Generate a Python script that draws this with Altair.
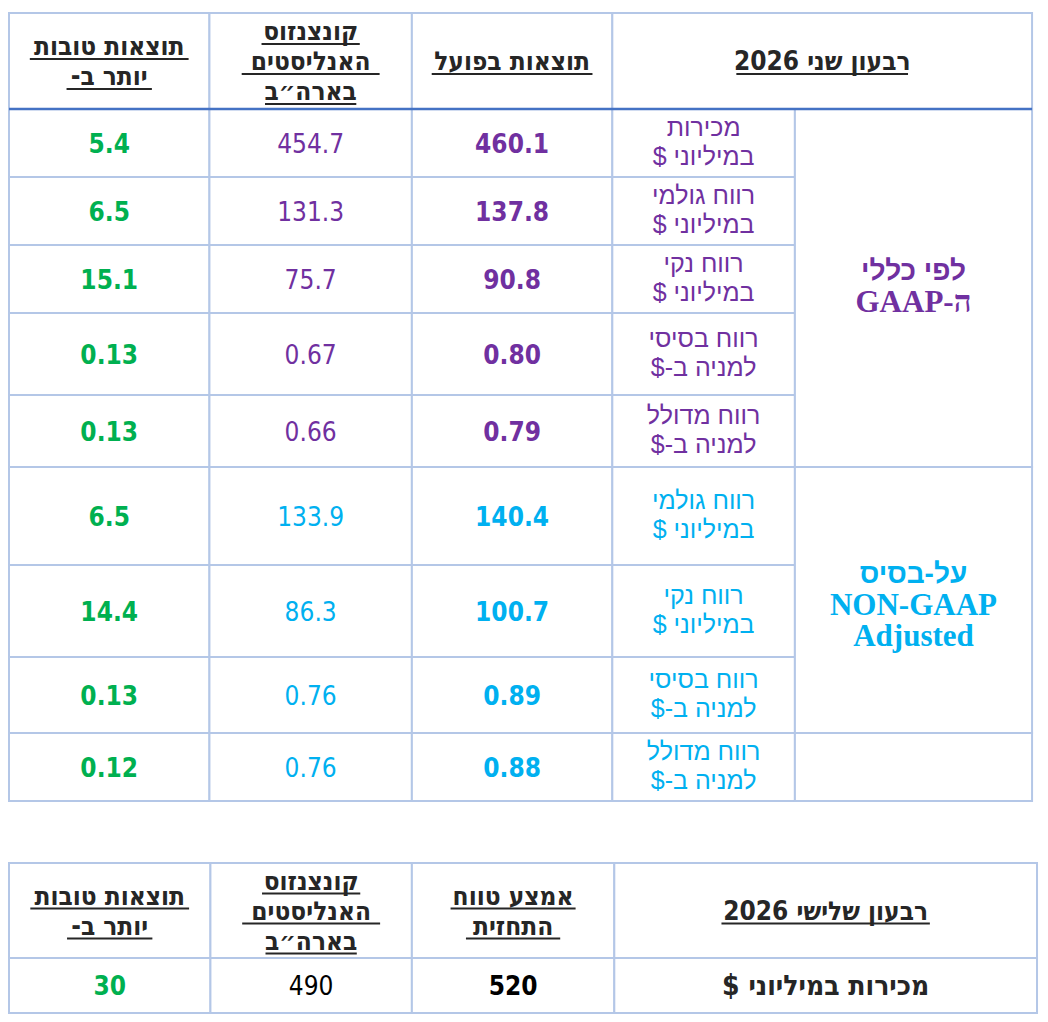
import altair as alt
import pandas as pd

# ---------------- data ----------------
q2_title = ["רבעון שני 2026"]
q3_title = ["רבעון שלישי 2026"]
col_beat = ["תוצאות טובות", "יותר ב-"]
col_consensus = ["קונצנזוס", "האנליסטים", "בארה״ב"]
col_actual = ["תוצאות בפועל"]
col_guidance = ["אמצע טווח", "התחזית"]

metrics = [
    ["מכירות", "במיליוני $"],
    ["רווח גולמי", "במיליוני $"],
    ["רווח נקי", "במיליוני $"],
    ["רווח בסיסי", "למניה ב-$"],
    ["רווח מדולל", "למניה ב-$"],
    ["רווח גולמי", "במיליוני $"],
    ["רווח נקי", "במיליוני $"],
    ["רווח בסיסי", "למניה ב-$"],
    ["רווח מדולל", "למניה ב-$"],
]
basis = ["GAAP"] * 5 + ["NONGAAP"] * 4
actual = [460.1, 137.8, 90.8, 0.80, 0.79, 140.4, 100.7, 0.89, 0.88]
consensus = [454.7, 131.3, 75.7, 0.67, 0.66, 133.9, 86.3, 0.76, 0.76]
beat = [5.4, 6.5, 15.1, 0.13, 0.13, 6.5, 14.4, 0.13, 0.12]
decimals = [1, 1, 1, 2, 2, 1, 1, 2, 2]
group_gaap = ["לפי כללי", "ה-GAAP"]
group_nongaap = ["על-בסיס", "NON-GAAP", "Adjusted"]

q3_metric = ["מכירות במיליוני $"]
q3_guidance = [520]
q3_consensus = [490]
q3_beat = [30]

# ---------------- layout / style ----------------
PURPLE = "#7030A0"
CYAN = "#00B0F0"
GREEN = "#00B050"
DARK = "#262626"
BORDER = "#B4C7E7"
HEADLINE = "#4472C4"
basis_color = {"GAAP": PURPLE, "NONGAAP": CYAN}

MX = [5, 207, 411, 613, 797, 1036]          # main table column edges
MH = [13, 109]                                # main header top/bottom
MY = [109, 177, 245, 313, 395, 467, 565, 657, 733, 801]  # main row edges
SX = [5, 208, 411, 615, 1041]                 # second table column edges
SY = [863, 958, 1013]                         # second table row edges

RLE, PDF = "\u202B", "\u202C"

# style: (line height, baseline shift from line centre)
LINE = {"head": (30, 9), "label": (29, 7.5), "group_he": (31, 9), "group_en": (31, 10),
        "numbold": (30, 9.5), "num": (30, 9.5), "q3label": (30, 9)}
UL_GAP = 4
UL_W = {
    "תוצאות טובות": 160, "יותר ב-": 86,
    "קונצנזוס": 99, "האנליסטים": 139, "בארה״ב": 92,
    "תוצאות בפועל": 162, "אמצע טווח": 126, "התחזית": 95,
    "רבעון שני 2026": 173, "רבעון שלישי 2026": 210,
}

def mid(a, b):
    return (a + b) / 2

def is_hebrew(s):
    return any("\u0590" <= ch <= "\u05FF" for ch in s)

rects, texts, rules = [], [], []

def cell(x0, x1, y0, y1):
    rects.append(dict(x=x0, x2=x1, y=y0, y2=y1))

def put(lines, cx, cy, color, styles, underline=False):
    n = len(lines)
    if isinstance(styles, str):
        styles = [styles] * n
    lh = LINE[styles[0]][0]
    for i, ln in enumerate(lines):
        st = styles[i]
        base = cy + (i - (n - 1) / 2) * lh + LINE[st][1]
        txt = RLE + ln + PDF if is_hebrew(ln) else ln
        texts.append(dict(x=cx, y=base, text=txt, color=color, style=st))
        if underline:
            w = UL_W[ln]
            rules.append(dict(x=cx - w / 2, x2=cx + w / 2, y=base + UL_GAP, color=DARK, kind="ul"))

def header(lines, x0, x1, y0, y1):
    cell(x0, x1, y0, y1)
    put(lines, mid(x0, x1), mid(y0, y1), DARK, "head", underline=True)

# main header
header(col_beat, MX[0], MX[1], MH[0], MH[1])
header(col_consensus, MX[1], MX[2], MH[0], MH[1])
header(col_actual, MX[2], MX[3], MH[0], MH[1])
header(q2_title, MX[3], MX[5], MH[0], MH[1])

# main rows
for i in range(len(metrics)):
    y0, y1 = MY[i], MY[i + 1]
    cy = mid(y0, y1)
    col = basis_color[basis[i]]
    fmt = "{:.%df}" % decimals[i]
    for c in range(4):
        cell(MX[c], MX[c + 1], y0, y1)
    put([fmt.format(beat[i])], mid(MX[0], MX[1]), cy, GREEN, "numbold")
    put([fmt.format(consensus[i])], mid(MX[1], MX[2]), cy, col, "num")
    put([fmt.format(actual[i])], mid(MX[2], MX[3]), cy, col, "numbold")
    put(metrics[i], mid(MX[3], MX[4]), cy, col, "label")

# group cells
gx = mid(MX[4], MX[5])
cell(MX[4], MX[5], MY[0], MY[5])
put(group_gaap, gx, mid(MY[0], MY[5]) - 2, PURPLE, ["group_he", "group_en"])
cell(MX[4], MX[5], MY[5], MY[8])
put(group_nongaap, gx, mid(MY[5], MY[8]) + 5, CYAN, ["group_he", "group_en", "group_en"])
cell(MX[4], MX[5], MY[8], MY[9])

# dark line under main header
rules.append(dict(x=MX[0], x2=MX[5], y=MH[1], color=HEADLINE, kind="line"))

# second table
header(col_beat, SX[0], SX[1], SY[0], SY[1])
header(col_consensus, SX[1], SX[2], SY[0], SY[1])
header(col_guidance, SX[2], SX[3], SY[0], SY[1])
header(q3_title, SX[3], SX[4], SY[0], SY[1])
for c in range(4):
    cell(SX[c], SX[c + 1], SY[1], SY[2])
cy2 = mid(SY[1], SY[2])
put([str(q3_beat[0])], mid(SX[0], SX[1]), cy2, GREEN, "numbold")
put([str(q3_consensus[0])], mid(SX[1], SX[2]), cy2, "#000000", "num")
put([str(q3_guidance[0])], mid(SX[2], SX[3]), cy2, "#000000", "numbold")
put(q3_metric, mid(SX[3], SX[4]), cy2, DARK, "q3label")

df_rect = pd.DataFrame(rects)
df_text = pd.DataFrame(texts)
df_rule = pd.DataFrame(rules)

xs = alt.Scale(domain=[4, 1044], nice=False, zero=False)
ys = alt.Scale(domain=[8, 1014], nice=False, zero=False, reverse=True)
X = alt.X("x:Q", scale=xs, axis=None)
Y = alt.Y("y:Q", scale=ys, axis=None)

rect_layer = alt.Chart(df_rect).mark_rect(fill="white", stroke=BORDER, strokeWidth=2).encode(
    x=X, x2="x2:Q", y=Y, y2="y2:Q"
)
line_layer = alt.Chart(df_rule).transform_filter(alt.datum.kind == "line").mark_rule(strokeWidth=2.5).encode(
    x=X, x2="x2:Q", y=Y, color=alt.Color("color:N", scale=None)
)
ul_layer = alt.Chart(df_rule).transform_filter(alt.datum.kind == "ul").mark_rule(strokeWidth=2).encode(
    x=X, x2="x2:Q", y=Y, color=alt.Color("color:N", scale=None)
)

styles = {
    "head": dict(font="DejaVu Sans Condensed, DejaVu Sans", fontSize=26, fontWeight="bold"),
    "label": dict(font="Liberation Sans, DejaVu Sans", fontSize=25, fontWeight="normal"),
    "numbold": dict(font="DejaVu Sans Condensed, DejaVu Sans", fontSize=26, fontWeight="bold"),
    "num": dict(font="DejaVu Sans Condensed, DejaVu Sans", fontSize=26, fontWeight="normal"),
    "group_he": dict(font="Liberation Sans, DejaVu Sans", fontSize=28, fontWeight="bold"),
    "group_en": dict(font="Liberation Serif, DejaVu Serif", fontSize=31, fontWeight="bold"),
    "q3label": dict(font="DejaVu Sans Condensed, DejaVu Sans", fontSize=28, fontWeight="bold"),
}

text_layers = []
for name, st in styles.items():
    text_layers.append(
        alt.Chart(df_text)
        .transform_filter(alt.datum.style == name)
        .mark_text(align="center", baseline="alphabetic", **st)
        .encode(x=X, y=Y, text="text:N", color=alt.Color("color:N", scale=None))
    )

chart = (
    alt.layer(rect_layer, line_layer, ul_layer, *text_layers)
    .properties(width=1032, height=1006, padding=0, autosize=alt.AutoSizeParams(type="none"), background="white")
    .configure_view(strokeWidth=0)
)

chart.save("out.html", embed_options={"renderer": "svg", "actions": False})
